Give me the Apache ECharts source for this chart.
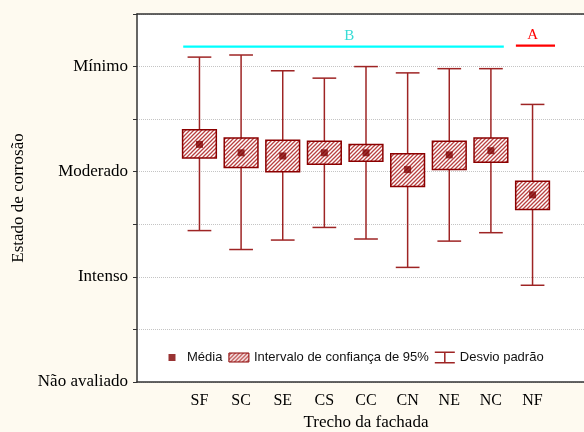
<!DOCTYPE html>
<html><head><meta charset="utf-8">
<script src="https://cdn.jsdelivr.net/npm/echarts@6/dist/echarts.min.js"></script>
<style>html,body{margin:0;padding:0;background:#fefaf0;}#c{width:584px;height:432px;}</style>
</head><body><div id="c"></div>
<script>
// ---- data ----
const categories = ['SF','SC','SE','CS','CC','CN','NE','NC','NF'];
const yLevelLabels = ['Não avaliado','Intenso','Moderado','Mínimo'];
const means  = [2.26, 2.18, 2.15, 2.18, 2.18, 2.02, 2.16, 2.20, 1.78];
const ciLow  = [2.13, 2.04, 2.00, 2.07, 2.10, 1.86, 2.02, 2.09, 1.64];
const ciHigh = [2.40, 2.32, 2.30, 2.29, 2.26, 2.17, 2.29, 2.32, 1.91];
const sdLow  = [1.44, 1.26, 1.35, 1.47, 1.36, 1.09, 1.34, 1.42, 0.92];
const sdHigh = [3.09, 3.11, 2.96, 2.89, 3.00, 2.94, 2.98, 2.98, 2.64];
const groupLabels = ['B', 'A'];
const groupStart  = [0.61, 8.60];
const groupEnd    = [8.31, 9.54];
const groupLevel  = [3.19, 3.20];
const groupLabelAt = [4.60, 9.00];

// ---- styles ----
const groupStyle = {B: {line: '#00ffff', text: '#38dcd6'}, A: {line: '#ff0000', text: '#ff0000'}};
const darkRed = '#8b0000';
const whiskerColor = '#9e2424';

function makeHatch() {
  const c = document.createElement('canvas');
  c.width = 4; c.height = 4;
  const g = c.getContext('2d');
  g.fillStyle = '#ffffff'; g.fillRect(0, 0, 4, 4);
  g.strokeStyle = '#b84040'; g.lineWidth = 1.3;
  g.beginPath();
  g.moveTo(-1, 1); g.lineTo(1, -1);
  g.moveTo(0, 4); g.lineTo(4, 0);
  g.moveTo(3, 5); g.lineTo(5, 3);
  g.stroke();
  return {image: c, repeat: 'repeat'};
}
const hatch = makeHatch();

const axisCats = [''].concat(categories, ['']);
const boxData = categories.map((c, i) => [i + 1, ciLow[i], ciHigh[i]]);
const sdData = categories.map((c, i) => [i + 1, sdLow[i], sdHigh[i]]);
const meanData = categories.map((c, i) => [i + 1, means[i]]);
const groupData = groupLabels.map((g, i) => [0, groupLevel[i], groupStart[i], groupEnd[i], groupLabelAt[i]]);

const serif = 'Liberation Serif';
const chart = echarts.init(document.getElementById('c'), null, {renderer: 'canvas'});
chart.setOption({
  backgroundColor: '#fefaf0',
  animation: false,
  grid: {left: 137, top: 14, width: 458, bottom: 50, show: true, backgroundColor: '#ffffff', borderWidth: 0,
         containLabel: false, outerBoundsMode: 'none'},
  legend: {
    left: 162, top: 351, padding: 0, itemGap: 6, itemWidth: 20, itemHeight: 12, selectedMode: false,
    textStyle: {fontFamily: 'Liberation Sans', fontSize: 13, color: '#111'},
    data: [
      {name: 'Média', icon: 'path://M0,0H0.01V0.01Z M6.5,2.5H13.5V9.5H6.5Z M20,12H19.99V11.99Z', itemStyle: {color: '#800000'}},
      {name: 'Intervalo de confiança de 95%', icon: 'path://M0,1.5H20V10.5H0Z', itemStyle: {color: hatch, borderColor: darkRed, borderWidth: 1}},
      {name: 'Desvio padrão', icon: 'path://M0,0H20V1.5H0Z M9.25,0H10.75V12H9.25Z M0,10.5H20V12H0Z', itemStyle: {color: whiskerColor}}
    ]
  },
  xAxis: [{
    type: 'category', data: axisCats, boundaryGap: true,
    axisLine: {lineStyle: {color: '#333', width: 1.5}},
    axisTick: {alignWithLabel: true, inside: true, length: 4, interval: 0, lineStyle: {color: '#333'}},
    axisLabel: {interval: 0, fontFamily: serif, fontSize: 16, color: '#000', margin: 11},
    splitLine: {show: false},
    name: 'Trecho da fachada', nameLocation: 'middle', nameGap: 32,
    nameTextStyle: {fontFamily: serif, fontSize: 17, color: '#000'}
  }, {
    type: 'category', data: axisCats, boundaryGap: true, position: 'top',
    axisLine: {lineStyle: {color: '#333', width: 1.5}},
    axisTick: {alignWithLabel: true, inside: true, length: 4, interval: 0, lineStyle: {color: '#333'}},
    axisLabel: {show: false}, splitLine: {show: false}
  }],
  yAxis: {
    type: 'value', min: 0, max: 3.5, interval: 0.5,
    axisLine: {show: true, lineStyle: {color: '#333', width: 1.5}},
    axisTick: {show: true, inside: false, length: 4, lineStyle: {color: '#333'}},
    axisLabel: {
      fontFamily: serif, fontSize: 17, color: '#000', margin: 9,
      formatter: v => (Math.abs(v - Math.round(v)) < 1e-6 && yLevelLabels[Math.round(v)] !== undefined) ? yLevelLabels[Math.round(v)] : ''
    },
    splitLine: {show: true, lineStyle: {color: '#c4c4c4', type: 'dotted', width: 1}},
    name: 'Estado de corrosão', nameLocation: 'middle', nameGap: 103,
    nameTextStyle: {fontFamily: serif, fontSize: 17, color: '#000'}
  },
  series: [
    {
      name: 'Desvio padrão', type: 'custom', z: 2, data: sdData,
      encode: {x: 0, y: [1, 2]},
      itemStyle: {color: whiskerColor},
      renderItem: function (params, api) {
        const x = api.value(0);
        const lo = api.coord([x, api.value(1)]);
        const hi = api.coord([x, api.value(2)]);
        const band = api.size([1, 0])[0];
        const cw = band * 0.57;
        const st = {stroke: whiskerColor, lineWidth: 1.5};
        return {type: 'group', children: [
          {type: 'line', shape: {x1: lo[0], y1: lo[1], x2: hi[0], y2: hi[1]}, style: st},
          {type: 'line', shape: {x1: hi[0] - cw / 2, y1: hi[1], x2: hi[0] + cw / 2, y2: hi[1]}, style: st},
          {type: 'line', shape: {x1: lo[0] - cw / 2, y1: lo[1], x2: lo[0] + cw / 2, y2: lo[1]}, style: st}
        ]};
      }
    },
    {
      name: 'Intervalo de confiança de 95%', type: 'custom', z: 3, data: boxData,
      encode: {x: 0, y: [1, 2]},
      itemStyle: {color: '#b84040'},
      renderItem: function (params, api) {
        const x = api.value(0);
        const lo = api.coord([x, api.value(1)]);
        const hi = api.coord([x, api.value(2)]);
        const band = api.size([1, 0])[0];
        const w = band * 0.81;
        return {type: 'rect', shape: {x: lo[0] - w / 2, y: hi[1], width: w, height: lo[1] - hi[1]},
          style: {fill: hatch, stroke: darkRed, lineWidth: 1.5}};
      }
    },
    {
      name: 'Média', type: 'scatter', z: 5, data: meanData,
      symbol: 'rect', symbolSize: 7, itemStyle: {color: '#800000'}
    },
    {
      name: 'grupos', type: 'custom', z: 4, data: groupData,
      encode: {x: 0, y: 1},
      renderItem: function (params, api) {
        const lvl = api.value(1);
        const base = api.coord([0, lvl]);
        const band = api.size([1, 0])[0];
        const x0 = base[0] + api.value(2) * band;
        const x1 = base[0] + api.value(3) * band;
        const xl = base[0] + api.value(4) * band;
        const lab = groupLabels[params.dataIndex];
        const s = groupStyle[lab];
        return {type: 'group', children: [
          {type: 'line', shape: {x1: x0, y1: base[1], x2: x1, y2: base[1]}, style: {stroke: s.line, lineWidth: 2.2}},
          {type: 'text', x: xl, y: base[1] - 3,
            style: {text: lab, fill: s.text, fontFamily: serif, fontSize: 15, align: 'center', verticalAlign: 'bottom'}}
        ]};
      }
    }
  ]
});
</script></body></html>
